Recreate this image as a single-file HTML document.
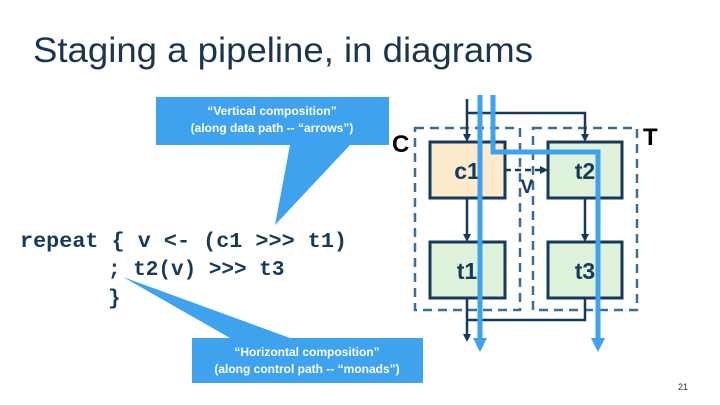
<!DOCTYPE html>
<html><head><meta charset="utf-8"><style>
html,body{margin:0;padding:0;background:#fff;}
svg{display:block;}
</style></head><body>
<svg width="720" height="405" viewBox="0 0 720 405" xmlns="http://www.w3.org/2000/svg">
<defs>
<marker id="ad" markerWidth="8" markerHeight="8" refX="4" refY="4" orient="auto" markerUnits="userSpaceOnUse"><path d="M0,0 L8,4 L0,8 z" fill="#173a5a"/></marker>
<marker id="ab" markerWidth="16" markerHeight="14" refX="10" refY="7" orient="auto" markerUnits="userSpaceOnUse"><path d="M0,0 L14,7 L0,14 z" fill="#3ea2ee"/></marker>
</defs>
<text x="33" y="62" font-family="Liberation Sans, sans-serif" font-size="35" fill="#1b3550" textLength="500" lengthAdjust="spacingAndGlyphs">Staging a pipeline, in diagrams</text>

<!-- callouts -->
<polygon points="156,97 389,97 389,145 350,145 275,225 290,145 156,145" fill="#3ea2ee"/>
<text x="272" y="115" text-anchor="middle" font-family="Liberation Sans, sans-serif" font-size="12" font-weight="bold" fill="#fff">“Vertical composition”</text>
<text x="272" y="132" text-anchor="middle" font-family="Liberation Sans, sans-serif" font-size="12" font-weight="bold" fill="#fff">(along data path -- “arrows”)</text>
<polygon points="192,338 230,338 123,277 290,338 423,338 423,383 192,383" fill="#3ea2ee"/>
<text x="307" y="356" text-anchor="middle" font-family="Liberation Sans, sans-serif" font-size="12" font-weight="bold" fill="#fff">“Horizontal composition”</text>
<text x="307" y="373" text-anchor="middle" font-family="Liberation Sans, sans-serif" font-size="12" font-weight="bold" fill="#fff">(along control path -- “monads”)</text>

<!-- code -->
<g font-family="Liberation Mono, monospace" font-size="21" font-weight="bold" fill="#173a5a">
<text x="20" y="247" textLength="327" lengthAdjust="spacingAndGlyphs">repeat { v &lt;- (c1 &gt;&gt;&gt; t1)</text>
<text x="108" y="275">; t2(v) &gt;&gt;&gt; t3</text>
<text x="108" y="304">}</text>
</g>

<!-- dashed boxes -->
<rect x="415" y="128" width="105" height="182" fill="none" stroke="#3b6e96" stroke-width="2.5" stroke-dasharray="9,6"/>
<rect x="533" y="128" width="104" height="182" fill="none" stroke="#3b6e96" stroke-width="2.5" stroke-dasharray="9,6"/>
<text x="392" y="152" font-family="Liberation Sans, sans-serif" font-size="24" font-weight="bold" fill="#000">C</text>
<text x="643" y="145" font-family="Liberation Sans, sans-serif" font-size="24" font-weight="bold" fill="#000">T</text>

<!-- dark lines -->
<g stroke="#173a5a" stroke-width="2.5" fill="none">
<path d="M467,99 V138" marker-end="url(#ad)"/>
<path d="M467,113 H585 V138" marker-end="url(#ad)"/>
<path d="M467,198 V238" marker-end="url(#ad)"/>
<path d="M585,198 V238" marker-end="url(#ad)"/>
<path d="M467,298 V338" marker-end="url(#ad)"/>
<path d="M585,298 V320 H467"/>
<path d="M505,170 H544" stroke-dasharray="6,4" marker-end="url(#ad)"/>
</g>

<!-- boxes -->
<g stroke="#173a5a" stroke-width="3">
<rect x="430" y="142" width="75" height="56" fill="#fdebcc"/>
<rect x="548" y="142" width="74" height="56" fill="#dff2dc"/>
<rect x="430" y="242" width="75" height="56" fill="#dff2dc"/>
<rect x="548" y="242" width="74" height="56" fill="#dff2dc"/>
</g>
<g font-family="Liberation Sans, sans-serif" font-size="23" font-weight="bold" fill="#173a5a" text-anchor="middle">
<text x="467" y="179">c1</text><text x="585" y="179">t2</text>
<text x="467" y="279">t1</text><text x="585" y="279">t3</text>
<text x="527" y="193" font-size="19">V</text>
</g>

<!-- blue thick lines -->
<g stroke="#3ea2ee" stroke-width="5" fill="none">
<path d="M480,95 V348" marker-end="url(#ab)"/>
<path d="M493,95 V152 H598 V348" marker-end="url(#ab)"/>
</g>

<text x="678" y="390" font-family="Liberation Sans, sans-serif" font-size="9" fill="#333">21</text>
</svg>
</body></html>
